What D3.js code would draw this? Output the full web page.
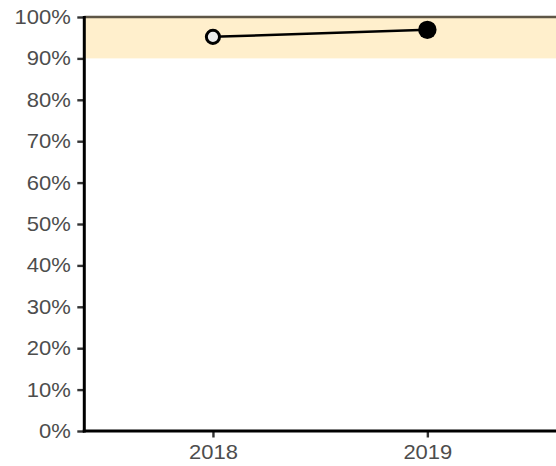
<!DOCTYPE html>
<html>
<head>
<meta charset="utf-8">
<script src="https://cdn.jsdelivr.net/npm/d3@7"></script>
<style>
  html, body { margin: 0; padding: 0; background: #fff; }
  svg { display: block; }
  .tick text { font-family: "Liberation Sans", Arial, sans-serif; fill: #4d4d4d; }
</style>
</head>
<body>
<svg id="chart" width="556" height="466"></svg>
<script>
// data
var years = ["2018", "2019"];
var rates = [0.952, 0.969];
var filled = [false, true];
var yTicks = [0, 0.1, 0.2, 0.3, 0.4, 0.5, 0.6, 0.7, 0.8, 0.9, 1];
var band = [0.9, 1];

var WIDTH = 556, HEIGHT = 466;
var margin = { top: 17, right: 0, bottom: 35, left: 84.3 };
var FONT = 20, STRETCH = 1.1;

var svg = d3.select("#chart");

var x = d3.scalePoint()
  .domain(years)
  .range([margin.left, WIDTH - margin.right])
  .padding(0.6);

var y = d3.scaleLinear()
  .domain([0, 1])
  .range([HEIGHT - margin.bottom, margin.top]);

// ── target band ──────────────────────────────────────────────────
svg.append("rect")
  .attr("x", margin.left)
  .attr("y", y(band[1]))
  .attr("width", WIDTH - margin.right - margin.left)
  .attr("height", y(band[0]) - y(band[1]))
  .attr("fill", "#ffefcc");

svg.append("line")
  .attr("x1", margin.left).attr("x2", WIDTH - margin.right)
  .attr("y1", y(band[1])).attr("y2", y(band[1]))
  .attr("stroke", "#5e5646")
  .attr("stroke-width", 2.4);

// ── axes ─────────────────────────────────────────────────────────
var yAxis = svg.append("g")
  .attr("transform", "translate(" + margin.left + ",0)")
  .call(d3.axisLeft(y)
    .tickValues(yTicks)
    .tickFormat(d3.format(".0%"))
    .tickSize(7)
    .tickPadding(5));

var xAxis = svg.append("g")
  .attr("transform", "translate(0," + y(0) + ")")
  .call(d3.axisBottom(x).tickSize(6.5).tickPadding(7));

[yAxis, xAxis].forEach(function (g) {
  g.select(".domain").remove();
  g.selectAll(".tick line").attr("stroke", "#333").attr("stroke-width", 2.4);
  g.selectAll(".tick text")
    .style("font-size", FONT + "px")
    .attr("transform", "scale(" + STRETCH + ",1)");
});
yAxis.selectAll(".tick text").attr("x", -13.6 / STRETCH);

// axis lines
svg.append("line")
  .attr("x1", margin.left).attr("x2", margin.left)
  .attr("y1", y(1) - 1).attr("y2", y(0) + 1.5)
  .attr("stroke", "#000").attr("stroke-width", 3);
svg.append("line")
  .attr("x1", margin.left - 1.5).attr("x2", WIDTH - margin.right)
  .attr("y1", y(0)).attr("y2", y(0))
  .attr("stroke", "#000").attr("stroke-width", 3);

// ── line + points ────────────────────────────────────────────────
var pts = years.map(function (yr, i) { return { year: yr, rate: rates[i], filled: filled[i] }; });

svg.append("path")
  .datum(pts)
  .attr("fill", "none")
  .attr("stroke", "#000")
  .attr("stroke-width", 2.5)
  .attr("d", d3.line()
    .x(function (d) { return x(d.year); })
    .y(function (d) { return y(d.rate); }));

svg.selectAll(".pt")
  .data(pts)
  .enter()
  .append("circle")
  .attr("class", "pt")
  .attr("cx", function (d) { return x(d.year); })
  .attr("cy", function (d) { return y(d.rate); })
  .attr("r", function (d) { return d.filled ? 9.2 : 6.6; })
  .attr("fill", function (d) { return d.filled ? "#000" : "#ececec"; })
  .attr("stroke", "#000")
  .attr("stroke-width", function (d) { return d.filled ? 0 : 3; });
</script>
</body>
</html>
